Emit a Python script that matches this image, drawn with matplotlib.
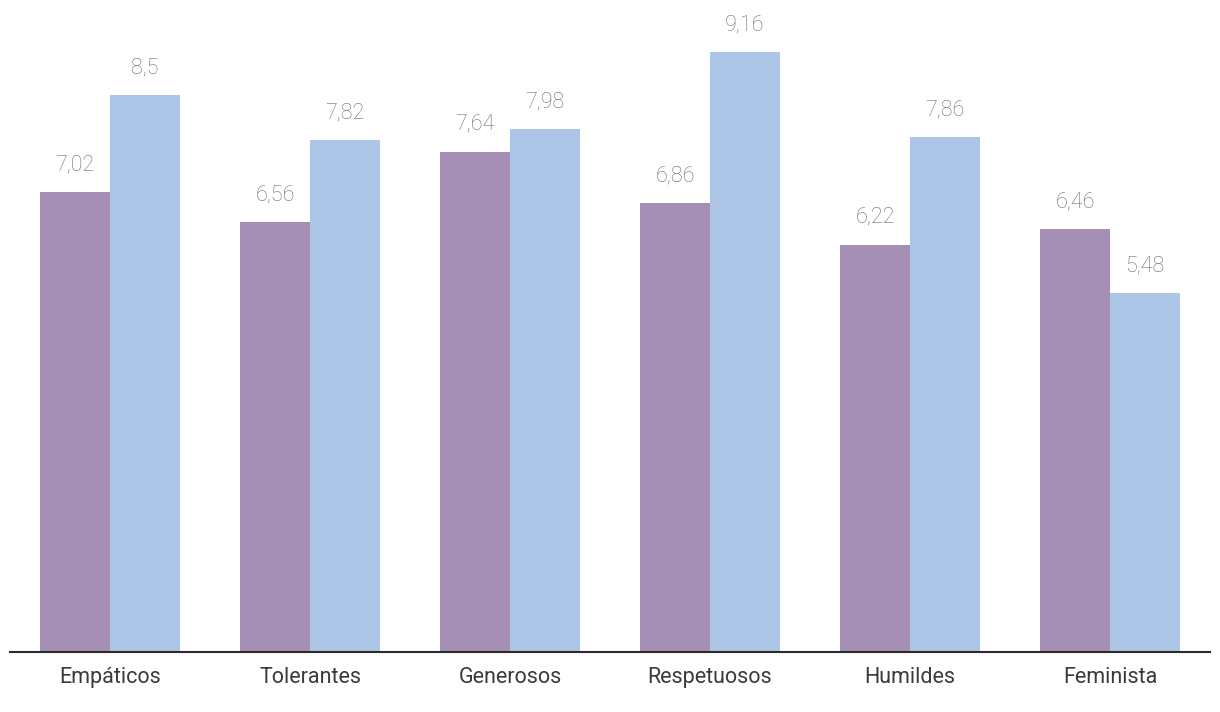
import matplotlib
matplotlib.use("Agg")
import matplotlib.pyplot as plt
import numpy as np

CATEGORIES = ["Empáticos", "Tolerantes", "Generosos", "Respetuosos", "Humildes", "Feminista"]
SERIES_A = [7.02, 6.56, 7.64, 6.86, 6.22, 6.46]
SERIES_B = [8.5, 7.82, 7.98, 9.16, 7.86, 5.48]
LABELS_A = ["7,02", "6,56", "7,64", "6,86", "6,22", "6,46"]
LABELS_B = ["8,5", "7,82", "7,98", "9,16", "7,86", "5,48"]

COLOR_A = "#a68fb4"
COLOR_B = "#adc5e6"

W, H = 1220, 712
fig = plt.figure(figsize=(W / 100, H / 100), dpi=100)
base_px = 652
ax = fig.add_axes([10 / W, (H - base_px) / H, 1200 / W, base_px / H])

px_per_unit = 65.5
x = np.arange(len(CATEGORIES))
bw = 0.35
ax.bar(x - bw / 2, SERIES_A, width=bw, color=COLOR_A, linewidth=0)
ax.bar(x + bw / 2, SERIES_B, width=bw, color=COLOR_B, linewidth=0)

ax.set_xlim(-0.5, len(CATEGORIES) - 0.5)
ax.set_ylim(0, base_px / px_per_unit)

for xs, vals, labs in ((x - bw / 2, SERIES_A, LABELS_A), (x + bw / 2, SERIES_B, LABELS_B)):
    for xi, v, lab in zip(xs, vals, labs):
        ax.annotate(lab, (xi, v), xytext=(0, 12), textcoords="offset points",
                    ha="center", va="bottom", fontsize=15.5, color="#6e6e6e",
                    family="Roboto", fontweight="light")

for side in ("top", "right", "left"):
    ax.spines[side].set_visible(False)
ax.spines["bottom"].set_color("#2b2b2b")
ax.spines["bottom"].set_linewidth(1.5)
ax.set_yticks([])
ax.set_xticks(x)
ax.set_xticklabels(CATEGORIES, fontsize=15.5, color="#3a3a3a", family="Roboto")
ax.tick_params(axis="x", length=0, pad=11)

fig.savefig("out.png", dpi=100)
